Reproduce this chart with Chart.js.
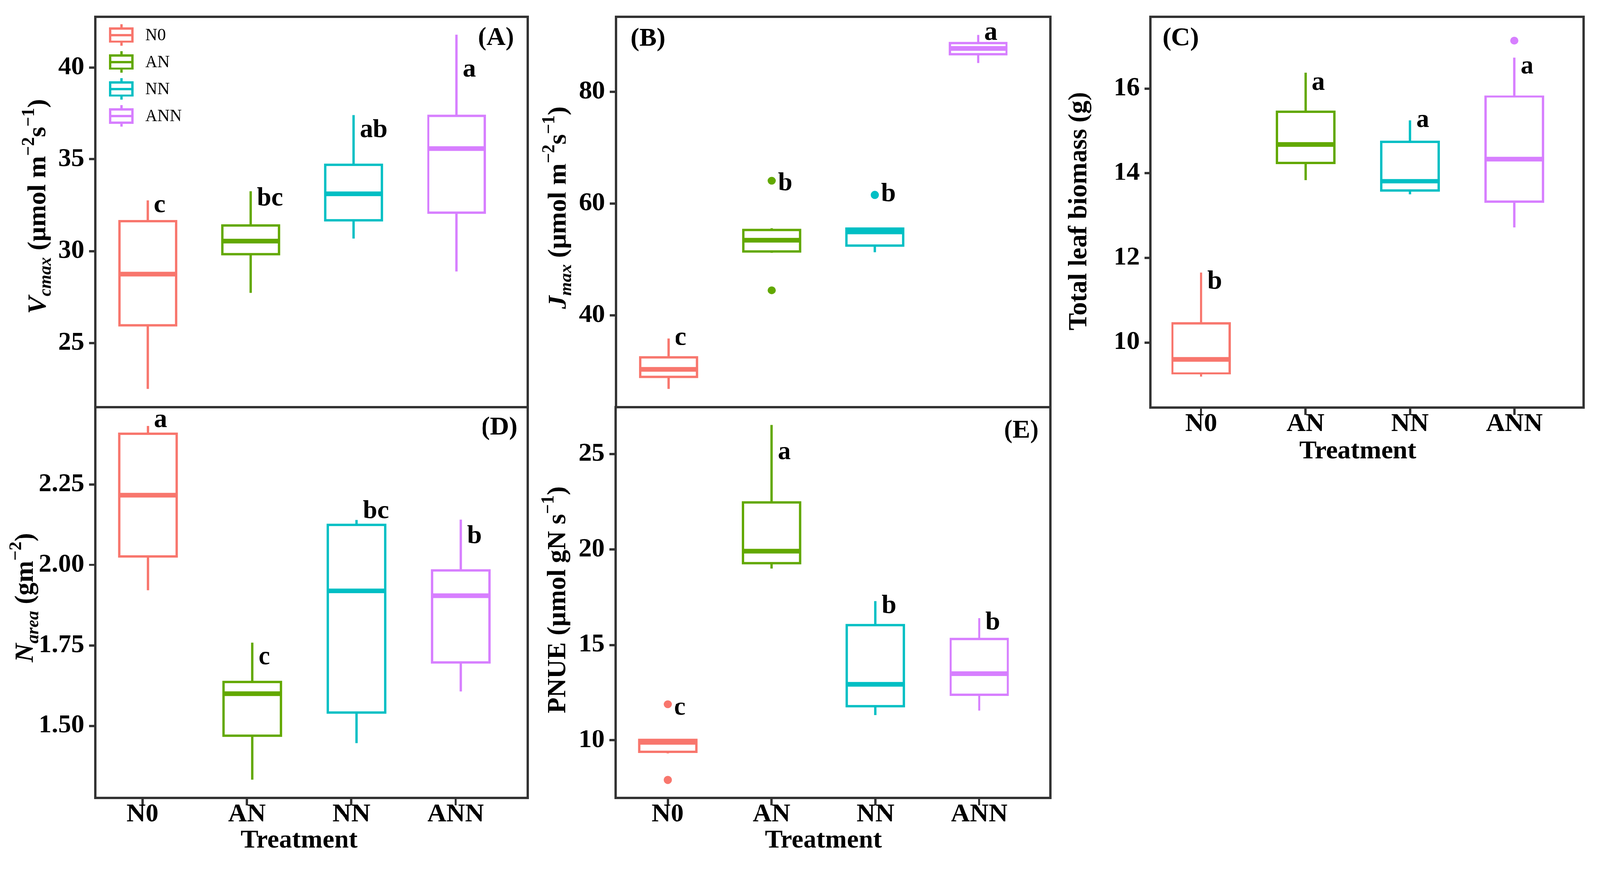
<!DOCTYPE html>
<html><head><meta charset="utf-8">
<script src="https://cdn.jsdelivr.net/npm/chart.js@4.4.1/dist/chart.umd.min.js"></script>
<style>
html,body{margin:0;padding:0;background:#fff;width:100vw;height:100vh;overflow:hidden}
#wrap{position:absolute;left:0;top:0;width:4154px;height:2229px;transform-origin:0 0}
canvas{position:absolute;left:0;top:0}
</style></head><body>
<div id="wrap">
<canvas id="cA" width="4154" height="2229"></canvas>
<canvas id="cB" width="4154" height="2229"></canvas>
<canvas id="cC" width="4154" height="2229"></canvas>
<canvas id="cD" width="4154" height="2229"></canvas>
<canvas id="cE" width="4154" height="2229"></canvas>
</div>
<script>
// ---------------- DATA ----------------
const categories = ['N0', 'AN', 'NN', 'ANN'];

// (A) Vcmax
const vcmaxMin = [22.50, 27.72, 30.68, 28.89];
const vcmaxQ1  = [25.96, 29.84, 31.68, 32.09];
const vcmaxMed = [28.75, 30.54, 33.12, 35.59];
const vcmaxQ3  = [31.63, 31.40, 34.70, 37.37];
const vcmaxMax = [32.77, 33.26, 37.41, 41.79];
const vcmaxOut = [[], [], [], []];
const vcmaxLetters = ['c', 'bc', 'ab', 'a'];
const vcmaxLetterY = [32.11, 32.49, 36.21, 39.50];
const vcmaxTicks = [25, 30, 35, 40];
const vcmaxRange = [21.5, 42.75];

// (B) Jmax
const jmaxMin = [26.82, 51.20, 51.29, 85.18];
const jmaxQ1  = [28.94, 51.44, 52.47, 86.73];
const jmaxMed = [30.35, 53.41, 54.96, 87.76];
const jmaxQ3  = [32.47, 55.29, 55.53, 88.71];
const jmaxMax = [35.86, 55.60, 55.53, 90.21];
const jmaxOut = [[], [64.09, 44.47], [61.55], []];
const jmaxLetters = ['c', 'b', 'b', 'a'];
const jmaxLetterY = [34.73, 62.35, 60.47, 89.32];
const jmaxTicks = [40, 60, 80];
const jmaxRange = [23.53, 93.41];

// (C) Total leaf biomass
const biomassMin = [9.19, 13.83, 13.50, 12.72];
const biomassQ1  = [9.27, 14.24, 13.59, 13.33];
const biomassMed = [9.60, 14.68, 13.81, 14.33];
const biomassQ3  = [10.45, 15.45, 14.74, 15.81];
const biomassMax = [11.65, 16.37, 15.25, 16.73];
const biomassOut = [[], [], [], [17.13]];
const biomassLetters = ['b', 'a', 'a', 'a'];
const biomassLetterY = [11.27, 15.97, 15.09, 16.35];
const biomassTicks = [10, 12, 14, 16];
const biomassRange = [8.46, 17.69];

// (D) Narea
const nareaMin = [1.922, 1.333, 1.446, 1.607];
const nareaQ1  = [2.027, 1.469, 1.541, 1.697];
const nareaMed = [2.217, 1.600, 1.920, 1.904];
const nareaQ3  = [2.408, 1.636, 2.125, 1.983];
const nareaMax = [2.433, 1.759, 2.140, 2.141];
const nareaOut = [[], [], [], []];
const nareaLetters = ['a', 'c', 'bc', 'b'];
const nareaLetterY = [2.429, 1.692, 2.145, 2.068];
const nareaTicks = [1.50, 1.75, 2.00, 2.25];
const nareaRange = [1.2757, 2.4906];

// (E) PNUE
const pnueMin = [9.32, 18.99, 11.32, 11.55];
const pnueQ1  = [9.40, 19.29, 11.78, 12.39];
const pnueMed = [9.89, 19.91, 12.93, 13.50];
const pnueQ3  = [10.02, 22.47, 16.03, 15.31];
const pnueMax = [10.02, 26.53, 17.29, 16.41];
const pnueOut = [[11.89, 7.93], [], [], []];
const pnueLetters = ['c', 'a', 'b', 'b'];
const pnueLetterY = [11.35, 24.72, 16.67, 15.80];
const pnueTicks = [10, 15, 20, 25];
const pnueRange = [6.98, 27.45];

// ---------------- STYLE ----------------
const treatmentColors = ['#F8766D', '#62A800', '#00BFC4', '#D77FFF'];
const FF = '"Liberation Serif", "Times New Roman", serif';
const INK = '#333333';
const W = 4154, H = 2229;
const HALF_BOX = 0.275;

// fit the 4154x2229 drawing into the CSS viewport (uniform scale)
(function fit() {
  const s = (window.innerWidth || W) / W;
  document.getElementById('wrap').style.transform = 'scale(' + s + ')';
})();

Chart.defaults.font.family = FF;
Chart.defaults.color = '#000';

function buildDatasets(st) {
  const ds = [];
  st.med.forEach((_, i) => {
    const x = i + 1, c = treatmentColors[i];
    const base = {showLine: true, borderColor: c, pointRadius: 0, pointHoverRadius: 0, fill: false, tension: 0};
    ds.push(Object.assign({}, base, {
      data: [{x: x - HALF_BOX, y: st.q1[i]}, {x: x + HALF_BOX, y: st.q1[i]}, {x: x + HALF_BOX, y: st.q3[i]},
             {x: x - HALF_BOX, y: st.q3[i]}, {x: x - HALF_BOX, y: st.q1[i]}],
      borderWidth: 6, borderCapStyle: 'square', borderJoinStyle: 'miter', order: 2}));
    ds.push(Object.assign({}, base, {data: [{x, y: st.q3[i]}, {x, y: st.max[i]}], borderWidth: 6, borderCapStyle: 'butt', order: 1}));
    ds.push(Object.assign({}, base, {data: [{x, y: st.q1[i]}, {x, y: st.min[i]}], borderWidth: 6, borderCapStyle: 'butt', order: 1}));
    ds.push(Object.assign({}, base, {data: [{x: x - HALF_BOX, y: st.med[i]}, {x: x + HALF_BOX, y: st.med[i]}], borderWidth: 12, borderCapStyle: 'butt', order: 0}));
    if (st.out[i].length) {
      ds.push({data: st.out[i].map(y => ({x, y})), showLine: false, pointRadius: 10.5, pointHoverRadius: 10.5,
               backgroundColor: c, borderWidth: 0, pointBorderWidth: 0, order: 0});
    }
  });
  return ds;
}

function drawRichVertical(ctx, x, yc, parts) {
  ctx.save();
  let total = 0;
  parts.forEach(p => { ctx.font = p.f; p.w = ctx.measureText(p.t).width; total += p.w; });
  ctx.translate(x, yc);
  ctx.rotate(-Math.PI / 2);
  ctx.fillStyle = '#000';
  ctx.textBaseline = 'alphabetic';
  ctx.textAlign = 'left';
  let cx = -total / 2;
  parts.forEach(p => { ctx.font = p.f; ctx.fillText(p.t, cx, p.dy || 0); cx += p.w; });
  ctx.restore();
}

const B68 = 'bold 68px ' + FF, BI68 = 'italic bold 68px ' + FF, BI46 = 'italic bold 46px ' + FF, B46 = 'bold 46px ' + FF;
const SUB = 14, SUP = -30;
const X_TITLE = 'Treatment';

function makePanel(id, cfg) {
  const a = cfg.area;
  const yAxisW = 200;
  const xH = cfg.showX ? cfg.xAxisH : 0;
  const padBottom = cfg.showX ? (H - a.b - xH) : (H - a.b);
  const st = cfg.stats;
  const tickShift = cfg.tickShift || 0;

  const annot = {
    id: 'annot' + id,
    afterDraw(chart) {
      const ctx = chart.ctx, ca = chart.chartArea;
      const xs = chart.scales.x, ys = chart.scales.y;
      ctx.save();
      ctx.font = B68; ctx.fillStyle = '#000'; ctx.textAlign = 'left'; ctx.textBaseline = 'alphabetic';
      cfg.letters.forEach((l, i) => ctx.fillText(l, xs.getPixelForValue(i + 1 + 0.06), ys.getPixelForValue(cfg.letterY[i])));
      ctx.textAlign = cfg.tag.align; ctx.textBaseline = 'middle';
      ctx.fillText(cfg.tag.text, cfg.tag.x, cfg.tag.y);
      if (cfg.showX) {
        ctx.textAlign = 'center'; ctx.textBaseline = 'middle';
        ctx.fillText(X_TITLE, xs.getPixelForValue((categories.length + 1) / 2 + tickShift), a.b + xH - 39);
      }
      ctx.lineWidth = 6; ctx.strokeStyle = INK; ctx.lineJoin = 'miter';
      ctx.strokeRect(ca.left, ca.top, ca.right - ca.left, ca.bottom - ca.top);
      ctx.restore();
      drawRichVertical(ctx, cfg.title.x, cfg.title.y, cfg.title.parts);
      if (cfg.legend) {
        ctx.save();
        categories.forEach((c, i) => {
          const cy = 91 + i * 70, col = treatmentColors[i];
          ctx.strokeStyle = col; ctx.lineWidth = 6; ctx.lineCap = 'butt';
          ctx.strokeRect(286, cy - 17, 58, 34);
          ctx.beginPath(); ctx.moveTo(286, cy); ctx.lineTo(344, cy);
          ctx.moveTo(315, cy - 20); ctx.lineTo(315, cy - 28);
          ctx.moveTo(315, cy + 20); ctx.lineTo(315, cy + 28); ctx.stroke();
          ctx.fillStyle = '#000'; ctx.font = '44px ' + FF; ctx.textAlign = 'left'; ctx.textBaseline = 'middle';
          ctx.fillText(c, 377, cy + 1);
        });
        ctx.restore();
      }
    }
  };

  return new Chart(document.getElementById(id), {
    type: 'scatter',
    data: {datasets: buildDatasets(st)},
    options: {
      responsive: false, animation: false, devicePixelRatio: 1, events: [],
      layout: {padding: {left: a.l - yAxisW, top: a.t, right: W - a.r, bottom: padBottom}},
      plugins: {legend: {display: false}, tooltip: {enabled: false}},
      scales: {
        x: {
          type: 'linear', min: cfg.xRange[0], max: cfg.xRange[1], position: 'bottom',
          afterBuildTicks: s => { s.ticks = categories.map((c, i) => ({value: i + 1 + tickShift})); },
          afterFit: s => { s.height = xH; },
          border: {display: false},
          grid: cfg.showX ? {display: true, drawOnChartArea: false, drawTicks: true, tickLength: 19, lineWidth: 6, color: INK}
                          : {display: false},
          ticks: {display: cfg.showX, autoSkip: false, maxRotation: 0, padding: 4, color: '#000',
                  font: {size: 68, weight: 'bold', lineHeight: 0.6}, callback: (v, i) => categories[i]},
          title: {display: false}
        },
        y: {
          type: 'linear', min: cfg.range[0], max: cfg.range[1],
          afterBuildTicks: s => { s.ticks = cfg.ticks.map(v => ({value: v})); },
          afterFit: s => { s.width = yAxisW; },
          border: {display: false},
          grid: {display: true, drawOnChartArea: false, drawTicks: true, tickLength: 16, lineWidth: 6, color: INK},
          ticks: {padding: 12, color: '#000', font: {size: 68, weight: 'bold', lineHeight: 0.6},
                  callback: v => cfg.tickFmt(v)}
        }
      }
    },
    plugins: [annot]
  });
}

function init() {
  makePanel('cA', {
    area: {l: 247, t: 44, r: 1370, b: 1057}, showX: false, xRange: [0.49, 4.69],
    stats: {min: vcmaxMin, q1: vcmaxQ1, med: vcmaxMed, q3: vcmaxQ3, max: vcmaxMax, out: vcmaxOut},
    letters: vcmaxLetters, letterY: vcmaxLetterY, ticks: vcmaxTicks, range: vcmaxRange, tickFmt: v => String(v),
    tag: {text: '(A)', align: 'right', x: 1335, y: 99}, legend: true,
    title: {x: 118, y: 536, parts: [
      {t: 'V', f: BI68}, {t: 'cmax', f: BI46, dy: SUB}, {t: ' (µmol m', f: B68}, {t: '−2', f: B46, dy: SUP},
      {t: 's', f: B68}, {t: '−1', f: B46, dy: SUP}, {t: ')', f: B68}]}
  });
  makePanel('cB', {
    area: {l: 1599, t: 44, r: 2727, b: 1057}, showX: false, xRange: [0.49, 4.70],
    stats: {min: jmaxMin, q1: jmaxQ1, med: jmaxMed, q3: jmaxQ3, max: jmaxMax, out: jmaxOut},
    letters: jmaxLetters, letterY: jmaxLetterY, ticks: jmaxTicks, range: jmaxRange, tickFmt: v => String(v),
    tag: {text: '(B)', align: 'left', x: 1637, y: 101},
    title: {x: 1469, y: 539, parts: [
      {t: 'J', f: BI68}, {t: 'max', f: BI46, dy: SUB}, {t: ' (µmol m', f: B68}, {t: '−2', f: B46, dy: SUP},
      {t: 's', f: B68}, {t: '−1', f: B46, dy: SUP}, {t: ')', f: B68}]}
  });
  makePanel('cC', {
    area: {l: 2987, t: 44, r: 4111, b: 1058}, showX: true, xAxisH: 153, xRange: [0.515, 4.662],
    stats: {min: biomassMin, q1: biomassQ1, med: biomassMed, q3: biomassQ3, max: biomassMax, out: biomassOut},
    letters: biomassLetters, letterY: biomassLetterY, ticks: biomassTicks, range: biomassRange, tickFmt: v => String(v),
    tag: {text: '(C)', align: 'left', x: 3018, y: 100},
    title: {x: 2820, y: 548, parts: [{t: 'Total leaf biomass (g)', f: B68}]}
  });
  makePanel('cD', {
    area: {l: 247, t: 1057, r: 1370, b: 2071}, showX: true, xAxisH: 150, xRange: [0.495, 4.64], tickShift: -0.05,
    stats: {min: nareaMin, q1: nareaQ1, med: nareaMed, q3: nareaQ3, max: nareaMax, out: nareaOut},
    letters: nareaLetters, letterY: nareaLetterY, ticks: nareaTicks, range: nareaRange, tickFmt: v => v.toFixed(2),
    tag: {text: '(D)', align: 'right', x: 1344, y: 1110},
    title: {x: 85, y: 1551, parts: [
      {t: 'N', f: BI68}, {t: 'area', f: BI46, dy: SUB}, {t: ' (gm', f: B68}, {t: '−2', f: B46, dy: SUP}, {t: ')', f: B68}]}
  });
  makePanel('cE', {
    area: {l: 1598, t: 1057, r: 2727, b: 2071}, showX: true, xAxisH: 150, xRange: [0.497, 4.685],
    stats: {min: pnueMin, q1: pnueQ1, med: pnueMed, q3: pnueQ3, max: pnueMax, out: pnueOut},
    letters: pnueLetters, letterY: pnueLetterY, ticks: pnueTicks, range: pnueRange, tickFmt: v => String(v),
    tag: {text: '(E)', align: 'right', x: 2697, y: 1118},
    title: {x: 1467, y: 1557, parts: [
      {t: 'PNUE (µmol gN s', f: B68}, {t: '−1', f: B46, dy: SUP}, {t: ')', f: B68}]}
  });
}

const fontLoads = ['bold 68px', 'italic bold 68px', '44px'].map(f => document.fonts.load(f + ' "Liberation Serif"'));
Promise.all(fontLoads).catch(() => {}).then(init);
</script>
</body></html>
